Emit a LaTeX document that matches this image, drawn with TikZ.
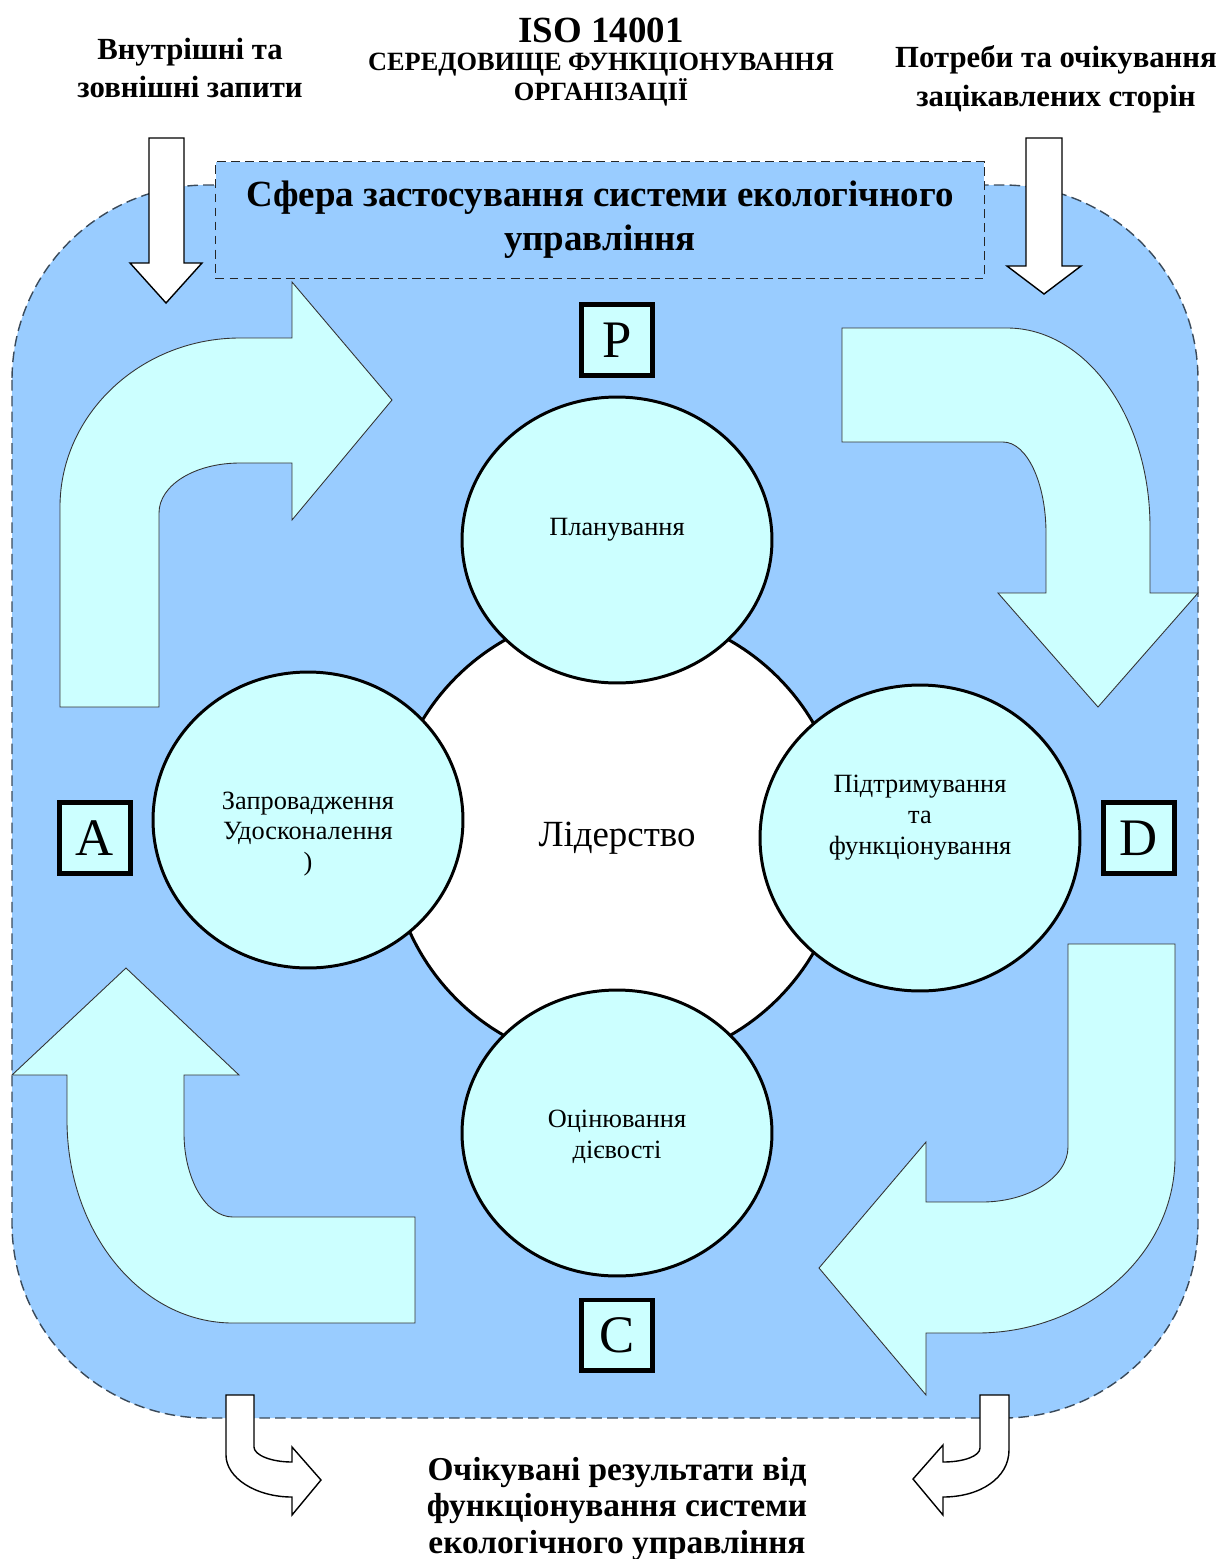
\documentclass[tikz,border=0pt]{standalone}
\usepackage{fontspec}
\setmainfont{Liberation Serif}
\usetikzlibrary{shapes.geometric,positioning}
\definecolor{envblue}{HTML}{99CCFF}
\definecolor{lightcyan}{HTML}{CCFFFF}
\definecolor{dashgray}{HTML}{3A4A5A}

\begin{document}
\begin{tikzpicture}[x=0.02cm, y=-0.02cm,
  circ/.style={draw, line width=1.7pt, ellipse, fill=lightcyan},
  ctext/.style={align=center, font=\fontsize{15}{17.6}\selectfont},
  letterbox/.style={draw, line width=2.3pt, fill=lightcyan, minimum size=1.42cm, inner sep=0pt, font=\fontsize{30}{30}\selectfont},
  bigarrow/.style={draw=black!80, line width=0.5pt, fill=lightcyan},
  whitearrow/.style={draw, line width=0.8pt, fill=white},
  headtext/.style={align=center, font=\bfseries\fontsize{17.5}{22}\selectfont}]
\useasboundingbox (0,0) rectangle (1227,1559);
% environment of the organisation
\draw[dashgray, fill=envblue, line width=0.8pt, dash pattern=on 6pt off 3pt, rounded corners=3.9cm] (12,185) rectangle (1198,1418);
\node[draw=black!85, fill=envblue, line width=0.8pt, dash pattern=on 5pt off 3pt, minimum width=15.38cm, minimum height=2.34cm, align=center, font=\bfseries\fontsize{21}{25}\selectfont] (scope) at (600,220) {Сфера застосування системи екологічного\\управління};

% headings
\node[font=\bfseries\fontsize{21}{21}\selectfont] (title) at (601,30) {ISO 14001};
\node[align=center, font=\bfseries\fontsize{15}{17}\selectfont] (envtxt) at (601,80) {СЕРЕДОВИЩЕ ФУНКЦІОНУВАННЯ\\ОРГАНІЗАЦІЇ};
\node[headtext] (inreq) at (190,68) {Внутрішні та\\зовнішні запити};
\node[headtext] (needs) at (1056,79) {Потреби та очікування\\зацікавлених сторін};

% inputs
\draw[whitearrow] (149,138) -- (184,138) -- (184,263) -- (202,263) -- (166,303) -- (130,263) -- (149,263) -- cycle;
\draw[whitearrow] (1026,138) -- (1062,138) -- (1062,266) -- (1081,266) -- (1044,294) -- (1007,266) -- (1026,266) -- cycle;

% PDCA arrows
\draw[bigarrow] (60,707) -- (60,507) .. controls (60,414) and (141,338) .. (240,338) -- (292,338) -- (292,282) -- (392,400) -- (292,520) -- (292,463) -- (240,463) .. controls (195,463) and (159,485) .. (159,513) -- (159,707) -- cycle;
\draw[bigarrow] (842,328) -- (1007,328) .. controls (1086,328) and (1150,417) .. (1150,527) -- (1150,593) -- (1198,593) -- (1098,707) -- (998,593) -- (1046,593) -- (1046,533) .. controls (1046,483) and (1027,442) .. (1003,442) -- (842,442) -- cycle;
\draw[bigarrow] (1068,944) -- (1175,944) -- (1175,1157) .. controls (1175,1254) and (1086,1333) .. (977,1333) -- (926,1333) -- (926,1395) -- (819,1268) -- (926,1142) -- (926,1202) -- (982,1202) .. controls (1029,1202) and (1068,1177) .. (1068,1147) -- cycle;
\draw[bigarrow] (126,968) -- (239,1075) -- (184,1075) -- (184,1133) .. controls (184,1179) and (206,1217) .. (233,1217) -- (415,1217) -- (415,1323) -- (233,1323) .. controls (141,1323) and (67,1232) .. (67,1120) -- (67,1075) -- (12,1075) -- cycle;

% circles
\node[draw, line width=1.7pt, circle, fill=white, minimum size=9.1cm, font=\fontsize{21}{21}\selectfont] (lead) at (617,838) {Лідерство};
\node[circ, minimum width=6.2cm, minimum height=5.72cm] (plan) at (617,540) {};
\node[circ, minimum width=6.2cm, minimum height=5.92cm] (impl) at (308,820) {};
\node[circ, minimum width=6.4cm, minimum height=6.12cm] (supp) at (920,838) {};
\node[circ, minimum width=6.2cm, minimum height=5.72cm] (eval) at (617,1133) {};
\node[ctext] (plantxt) at (617,530) {Планування};
\node[ctext] (impltxt) at (308,834) {Запровадження\\Удосконалення\\)};
\node[ctext] (supptxt) at (920,818) {Підтримування\\та\\функціонування};
\node[ctext] (evaltxt) at (617,1137) {Оцінювання\\дієвості};

% PDCA letters
\node[letterbox] (lblP) at (617,340) {P};
\node[letterbox] (lblA) at (95,838) {A};
\node[letterbox] (lblD) at (1139,838) {D};
\node[letterbox] (lblC) at (617,1335) {C};

% outputs
\draw[whitearrow] (226,1395) -- (254,1395) -- (254,1447) .. controls (254,1455) and (271,1462) .. (292,1462) -- (292,1447) -- (321,1480) -- (292,1515) -- (292,1497) .. controls (256,1497) and (226,1478) .. (226,1455) -- cycle;
\draw[whitearrow] (980,1395) -- (1009,1395) -- (1009,1450) .. controls (1009,1478) and (980,1497) .. (943,1497) -- (943,1515) -- (913,1479) -- (943,1445) -- (943,1462) .. controls (964,1462) and (980,1456) .. (980,1448) -- cycle;
\node[align=center, font=\bfseries\fontsize{19}{21}\selectfont] (result) at (617,1509) {Очікувані результати від\\функціонування системи\\екологічного управління};
\end{tikzpicture}
\end{document}
